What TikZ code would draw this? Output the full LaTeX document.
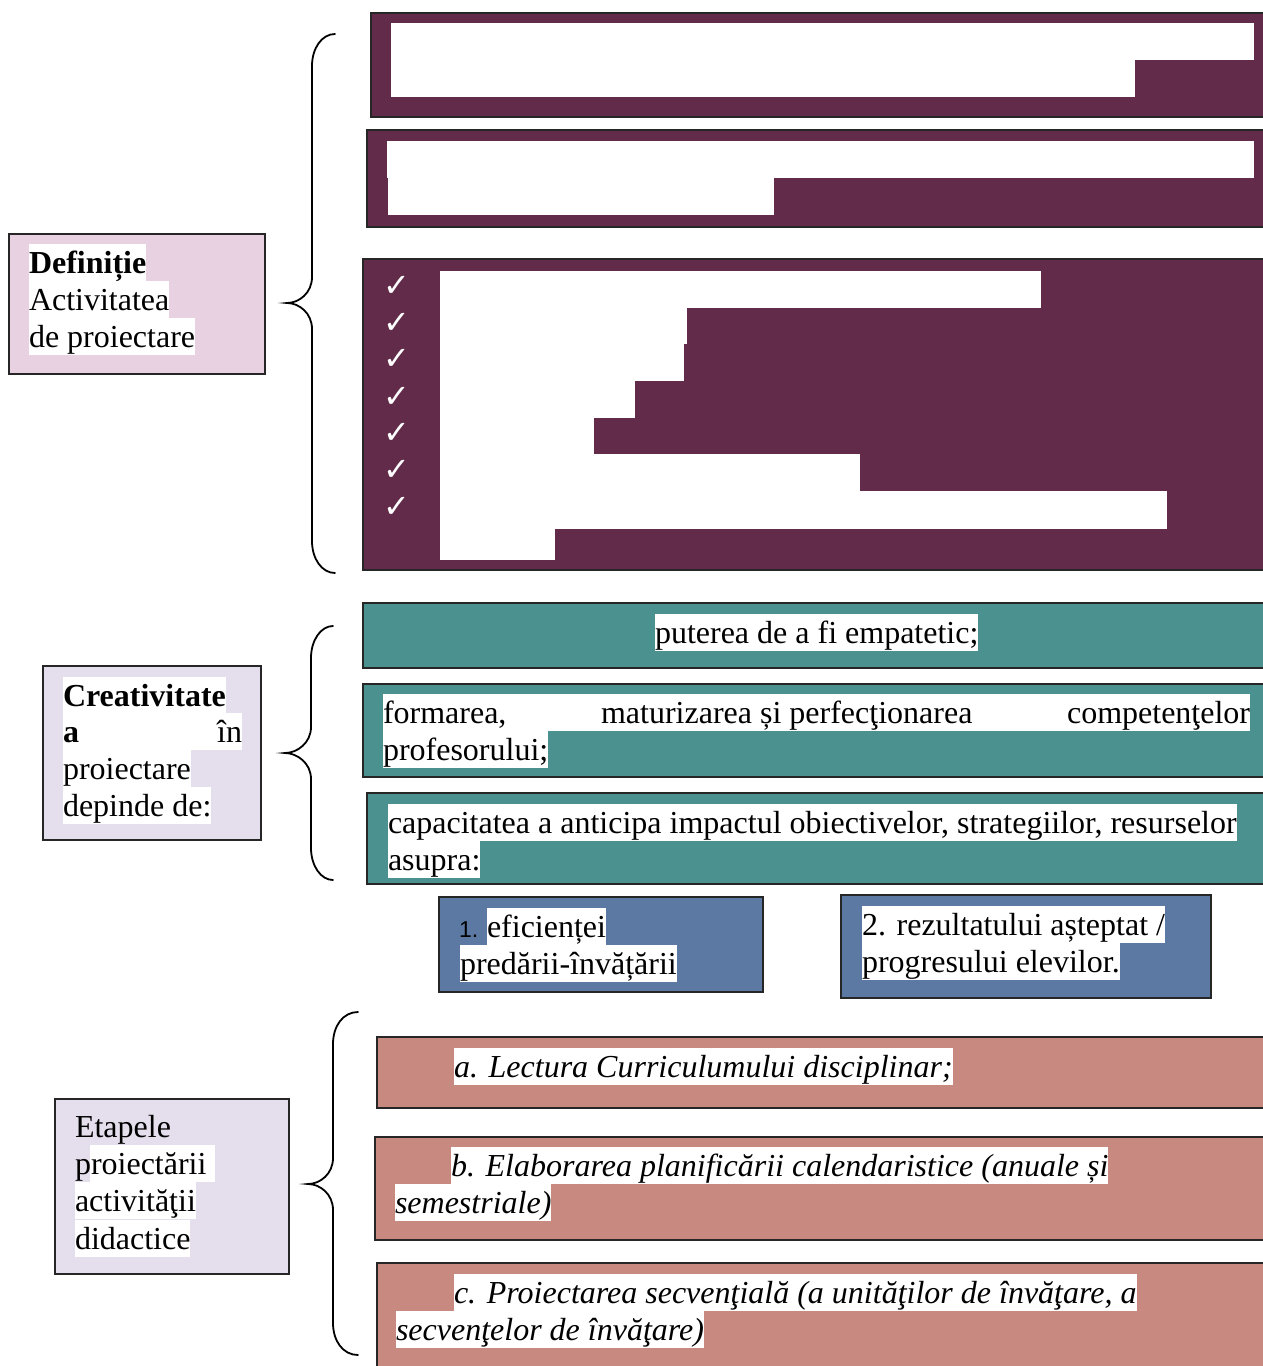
\documentclass[tikz,border=0pt]{standalone}
\usepackage{fontspec}
\setmainfont{Liberation Serif}
\newfontfamily\symfont{DejaVu Sans}
\newfontfamily\numfont{Liberation Sans}
\definecolor{purp}{HTML}{622B4A}
\definecolor{teal2}{HTML}{4A918F}
\definecolor{blue2}{HTML}{5B79A2}
\definecolor{salmon2}{HTML}{C88A80}
\definecolor{pink2}{HTML}{E8D1E1}
\definecolor{lav2}{HTML}{E5DFED}
\newcommand{\leftcurly}[6]{%
\draw[brace] (#1,#4) .. controls ({#2+10},#4) and (#2,{#4+14}) .. (#2,{#4+32})
 -- (#2,{#5-26}) .. controls (#2,{#5-10}) and ({#3+12},#5) .. (#3,#5)
 .. controls ({#3+12},#5) and (#2,{#5+10}) .. (#2,{#5+26})
 -- (#2,{#6-32}) .. controls (#2,{#6-14}) and ({#2+10},#6) .. (#1,#6);}
\begin{document}
\begin{tikzpicture}[x=1pt,y=-1pt,
  box/.style={draw=black!85, line width=1.6pt, inner sep=0pt, outer sep=0pt, anchor=north west},
  purplebox/.style={box, fill=purp},
  tealbox/.style={box, fill=teal2},
  bluebox/.style={box, fill=blue2},
  salmonbox/.style={box, fill=salmon2},
  pinkbox/.style={box, fill=pink2},
  lavbox/.style={box, fill=lav2},
  txt/.style={inner sep=0pt, outer sep=0pt, anchor=north west, text height=29.5pt, text depth=7.5pt, font=\fontsize{32}{37}\selectfont},
  hl/.style={txt, fill=white},
  ihl/.style={hl, font=\fontsize{32}{37}\selectfont\itshape},
  chk/.style={text=white, inner sep=0pt, font=\symfont\fontsize{32}{36}\selectfont},
  brace/.style={line width=1.8pt, line cap=round}
]
\useasboundingbox (0,0) rectangle (1263,1366);
\clip (0,0) rectangle (1263,1366);

% ---------- left boxes ----------
\node[pinkbox, minimum width=256pt, minimum height=140pt] (def) at (9,234) {};
\node[hl] (def1) at (29,244) {\textbf{Definiție}\ };
\node[hl] (def2) at (29,281) {Activitatea};
\node[hl] (def3) at (29,318) {de proiectare};

\node[lavbox, minimum width=218pt, minimum height=174pt] (cre) at (43,666) {};
\node[hl] (cre1) at (63,677) {\textbf{Creativitate}};
\node[hl] (cre2) at (63,713) {\makebox[179pt][s]{\textbf{a}\hfill în}};
\node[hl] (cre3) at (63,750) {proiectare\ };
\node[hl] (cre4) at (63,787) {depinde de:};

\node[lavbox, minimum width=234pt, minimum height=175pt] (eta) at (55,1099) {};
\fill[white] (90,1145) rectangle (215,1182);
\node[hl] (eta3) at (75,1182) {activităţii\ };
\node[hl] (eta4) at (75,1220) {didactice};
\node[txt] (eta1) at (75,1108) {Etapele};
\node[txt] (eta2) at (75,1145) {proiectării};

% ---------- braces ----------
\leftcurly{335}{312}{287}{34}{303}{573}
\leftcurly{333}{311}{285}{626}{753}{880}
\leftcurly{358}{333}{308}{1012}{1184}{1355}

% ---------- purple boxes ----------
\node[purplebox, minimum width=904pt, minimum height=104pt] (p1) at (371,13) {};
\fill[white] (391,23) rectangle (1254,60);
\fill[white] (391,60) rectangle (1135,97);
\node[purplebox, minimum width=908pt, minimum height=97pt] (p2) at (367,130) {};
\fill[white] (387,141) rectangle (1254,178);
\fill[white] (388,178) rectangle (774,215);
\node[purplebox, minimum width=912pt, minimum height=311pt] (p3) at (363,259) {};
\fill[white] (440,271) rectangle (1041,308);
\fill[white] (440,308) rectangle (687,344);
\fill[white] (440,344) rectangle (684,381);
\fill[white] (440,381) rectangle (635,418);
\fill[white] (440,418) rectangle (594,454);
\fill[white] (440,454) rectangle (860,491);
\fill[white] (440,491) rectangle (1167,529);
\fill[white] (440,529) rectangle (555,560);
\foreach \i/\yy in {1/286,2/323,3/359,4/397,5/433,6/470,7/507}
  \node[chk] (chk\i) at (397,\yy) {✓};

% ---------- teal boxes ----------
\node[tealbox, minimum width=912pt, minimum height=65pt] (t1) at (363,603) {};
\node[hl] (t1a) at (655,614) {puterea de a fi empatetic;};
\node[tealbox, minimum width=912pt, minimum height=93pt] (t2) at (363,684) {};
\node[hl] (t2a) at (383,694) {\makebox[867pt][s]{formarea,\hfill maturizarea și perfecţionarea\hfill competenţelor}};
\node[hl] (t2b) at (383,731) {profesorului;};
\node[tealbox, minimum width=908pt, minimum height=91pt] (t3) at (367,793) {};
\node[hl] (t3a) at (388,804) {capacitatea a anticipa impactul obiectivelor, strategiilor, resurselor\ };
\node[hl] (t3b) at (388,841) {asupra:};

% ---------- blue boxes ----------
\node[bluebox, minimum width=324pt, minimum height=95pt] (b1) at (439,897) {};
\node[anchor=base west, inner sep=0pt, font=\numfont\fontsize{23}{26}\selectfont] (b1n) at (459,937.5) {1.};
\node[hl] (b1a) at (487,908) {eficienței\ };
\node[hl] (b1b) at (460,945) {predării-învățării};
\node[bluebox, minimum width=370pt, minimum height=103pt] (b2) at (841,895) {};
\node[hl] (b2a) at (862,906) {2. rezultatului așteptat /\ };
\node[hl] (b2b) at (862,943) {progresului elevilor.};

% ---------- salmon boxes ----------
\node[salmonbox, minimum width=898pt, minimum height=71pt] (s1) at (377,1037) {};
\node[ihl] (s1a) at (454,1048) {a. Lectura Curriculumului disciplinar;};
\node[salmonbox, minimum width=900pt, minimum height=103pt] (s2) at (375,1137) {};
\node[ihl] (s2a) at (451,1147) {b. Elaborarea planificării calendaristice (anuale și\ };
\node[ihl] (s2b) at (395,1184) {semestriale)};
\node[salmonbox, minimum width=898pt, minimum height=120pt] (s3) at (377,1263) {};
\node[ihl] (s3a) at (454,1274) {c. Proiectarea secvenţială (a unităţilor de învăţare, a\ };
\node[ihl] (s3b) at (396,1311) {secvenţelor de învăţare)};
\end{tikzpicture}
\end{document}
